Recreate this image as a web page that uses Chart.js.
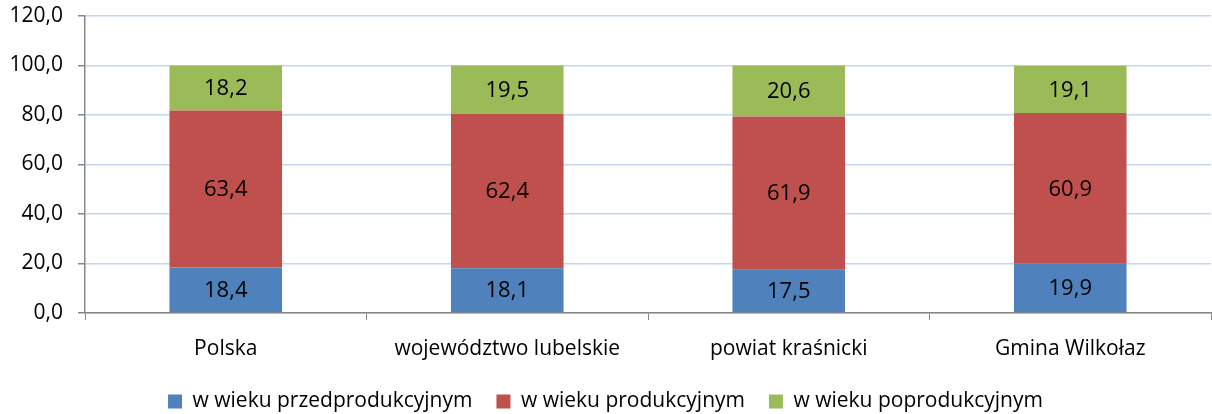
<!DOCTYPE html>
<html>
<head>
<meta charset="utf-8">
<script src="https://cdn.jsdelivr.net/npm/chart.js@4/dist/chart.umd.min.js"></script>
<style>
  html, body { margin: 0; padding: 0; background: #fff; }
  #wrap { width: 1212px; height: 414px; }
</style>
</head>
<body>
<div id="wrap"><canvas id="wykres"></canvas></div>
<script>
// struktura ludności wg ekonomicznych grup wieku (%)
let kategorie = ['Polska', 'województwo lubelskie', 'powiat kraśnicki', 'Gmina Wilkołaz'];
let przedprod = [18.4, 18.1, 17.5, 19.9];
let prod = [63.4, 62.4, 61.9, 60.9];
let poprod = [18.2, 19.5, 20.6, 19.1];
let osY = [0, 20, 40, 60, 80, 100, 120];

let czcionka = '"Open Sans", "Noto Sans", sans-serif';

function liczba(v){
	return v.toFixed(1).replace('.', ',');
}

// wartości wpisane na środku każdego segmentu
let etykiety = {
	id: 'etykiety',
	afterDatasetsDraw(chart){
		let ctx = chart.ctx;
		ctx.save();
		ctx.font = '22px ' + czcionka;
		ctx.fillStyle = '#000';
		ctx.textAlign = 'center';
		ctx.textBaseline = 'middle';
		chart.data.datasets.forEach(function(ds, i){
			chart.getDatasetMeta(i).data.forEach(function(bar, j){
				let y = (bar.y + bar.base) / 2;
				ctx.fillText(liczba(ds.data[j]), bar.x, y + 1);
			});
		});
		ctx.restore();
	}
};

new Chart(document.getElementById('wykres'), {
	type: 'bar',
	data: {
		labels: kategorie,
		datasets: [{
			label: 'w wieku przedprodukcyjnym',
			data: przedprod,
			backgroundColor: '#4F81BD'
		}, {
			label: 'w wieku produkcyjnym',
			data: prod,
			backgroundColor: '#C0504D'
		}, {
			label: 'w wieku poprodukcyjnym',
			data: poprod,
			backgroundColor: '#9BBB59'
		}]
	},
	options: {
		responsive: true,
		maintainAspectRatio: false,
		animation: false,
		datasets: {
			bar: { categoryPercentage: 1, barPercentage: 0.4 }
		},
		layout: { padding: { top: 16, right: 1, left: 0, bottom: -8 } },
		plugins: {
			tooltip: { enabled: false },
			legend: {
				position: 'bottom',
				labels: {
					font: { family: czcionka, size: 21 },
					color: '#000',
					boxWidth: 14,
					boxHeight: 14,
					padding: 24
				}
			}
		},
		scales: {
			x: {
				stacked: true,
				grid: {
					offset: true,
					drawOnChartArea: false,
					color: '#868686',
					tickLength: 7
				},
				border: { color: '#868686', width: 1.5 },
				ticks: {
					font: { family: czcionka, size: 21 },
					color: '#000',
					padding: 16
				},
				afterFit(scale){ scale.height = 54; }
			},
			y: {
				stacked: true,
				min: 0,
				max: 120,
				afterBuildTicks(scale){
					scale.ticks = osY.map(function(v){ return { value: v }; });
				},
				grid: {
					color: '#C4D7EF',
					lineWidth: 1.5,
					tickColor: '#868686',
					tickLength: 7
				},
				border: { color: '#868686', width: 1.5 },
				ticks: {
					font: { family: czcionka, size: 21 },
					color: '#000',
					padding: 15,
					callback: function(v){ return liczba(v); }
				},
				afterFit(scale){
					scale.width = 85;
					scale.paddingTop = 0;
					scale.paddingBottom = 0;
				}
			}
		}
	},
	plugins: [etykiety]
});
</script>
</body>
</html>
